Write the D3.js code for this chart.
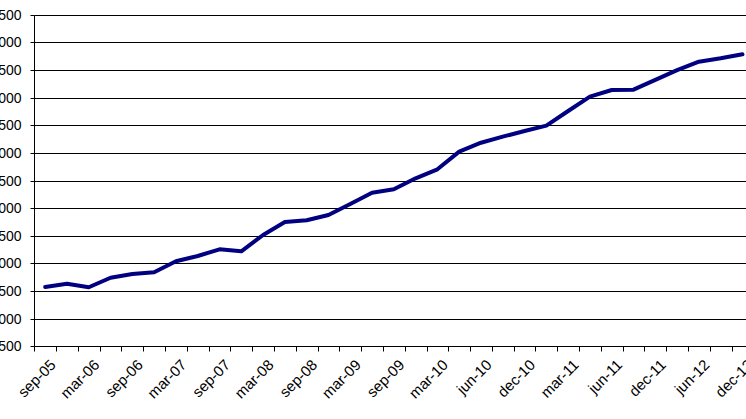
<!DOCTYPE html>
<html>
<head>
<meta charset="utf-8">
<script src="https://cdn.jsdelivr.net/npm/d3@7"></script>
<style>
  body { margin: 0; background: #fff; overflow: hidden; }
  svg { display: block; }
  text { font-family: Arial, "Liberation Sans", sans-serif; fill: #000; }
</style>
</head>
<body>
<div id="chart"></div>
<script>
// quarterly-ish series, labels shown on every other category
const categories = [
  "sep-05", "dec-05", "mar-06", "jun-06", "sep-06", "dec-06", "mar-07", "jun-07",
  "sep-07", "dec-07", "mar-08", "jun-08", "sep-08", "dec-08", "mar-09", "jun-09",
  "sep-09", "dec-09", "mar-10", "apr-10", "jun-10", "sep-10", "dec-10", "jan-11",
  "mar-11", "apr-11", "jun-11", "sep-11", "dec-11", "mar-12", "jun-12", "sep-12",
  "dec-12"
];
const values = [
  2573, 2633, 2568, 2741, 2808, 2839, 3038, 3134,
  3255, 3219, 3514, 3749, 3780, 3876, 4075, 4280,
  4341, 4540, 4703, 5022, 5184, 5293, 5396, 5492,
  5758, 6017, 6138, 6143, 6321, 6496, 6650, 6712,
  6784
];
const yTicks = d3.range(1500, 7501, 500);

const chartW = 746, chartH = 419;
const plotLeft = 34.3, plotTop = 14.7, plotBottom = 346.3, step = 21.79;

const svg = d3.select("#chart")
    .append("svg")
    .attr("width", chartW)
    .attr("height", chartH);

const x = d3.scaleBand()
    .domain(categories)
    .range([plotLeft, plotLeft + step * categories.length])
    .padding(0);

const y = d3.scaleLinear()
    .domain([1500, 7500])
    .range([plotBottom, plotTop]);

const crisp = v => Math.round(v) + 0.5;

// gridlines
svg.append("g")
    .selectAll("line")
    .data(yTicks)
    .join("line")
    .attr("x1", crisp(plotLeft))
    .attr("x2", chartW)
    .attr("y1", d => crisp(y(d)))
    .attr("y2", d => crisp(y(d)))
    .attr("stroke", "#000")
    .attr("stroke-width", 1);

// y axis
const yAxis = svg.append("g");
yAxis.append("line")
    .attr("x1", crisp(plotLeft)).attr("x2", crisp(plotLeft))
    .attr("y1", crisp(plotTop)).attr("y2", crisp(plotBottom))
    .attr("stroke", "#000");
yAxis.selectAll(".ytick")
    .data(yTicks)
    .join("line")
    .attr("class", "ytick")
    .attr("x1", crisp(plotLeft) - 4).attr("x2", crisp(plotLeft))
    .attr("y1", d => crisp(y(d))).attr("y2", d => crisp(y(d)))
    .attr("stroke", "#000");
yAxis.selectAll("text")
    .data(yTicks)
    .join("text")
    .attr("x", 21.5)
    .attr("y", d => y(d))
    .attr("dy", "0.36em")
    .attr("text-anchor", "end")
    .style("font-size", "14px")
    .text(d => d);

// x axis ticks at category edges
const xAxis = svg.append("g");
const edges = categories.map(c => x(c)).concat([x.range()[1]]);
xAxis.selectAll("line.xtick")
    .data(edges)
    .join("line")
    .attr("class", "xtick")
    .attr("x1", d => crisp(d)).attr("x2", d => crisp(d))
    .attr("y1", crisp(plotBottom)).attr("y2", crisp(plotBottom) + 5)
    .attr("stroke", "#000");

xAxis.selectAll("text")
    .data(categories.filter((c, i) => i % 2 === 0))
    .join("text")
    .attr("text-anchor", "end")
    .attr("transform", d => `translate(${x(d) + x.bandwidth() / 2 + 4},${plotBottom + 12}) rotate(-45)`)
    .attr("dy", "0.71em")
    .style("font-size", "15px")
    .text(d => d);

// series line
const line = d3.line()
    .x((d, i) => x(categories[i]) + x.bandwidth() / 2)
    .y(d => y(d));

svg.append("path")
    .datum(values)
    .attr("fill", "none")
    .attr("stroke", "#000080")
    .attr("stroke-width", 4)
    .attr("stroke-linejoin", "round")
    .attr("stroke-linecap", "round")
    .attr("d", line);
</script>
</body>
</html>
